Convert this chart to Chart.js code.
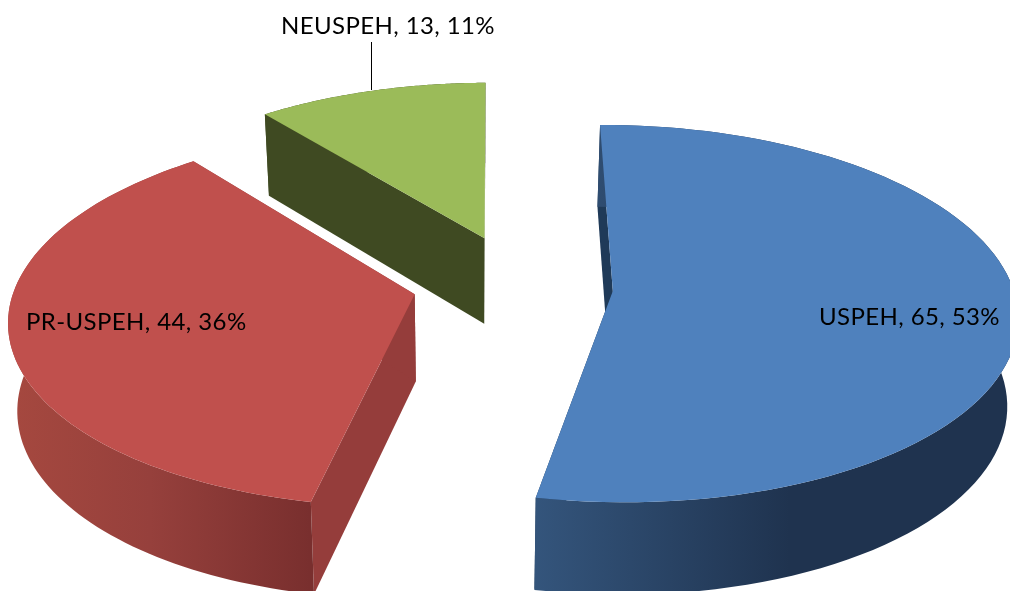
<!DOCTYPE html>
<html>
<head>
<meta charset="utf-8">
<style>html,body{margin:0;padding:0;background:#fff;overflow:hidden}canvas{display:block}</style>
<script src="https://cdn.jsdelivr.net/npm/chart.js@4"></script>
</head>
<body>
<canvas id="c" width="1010" height="591"></canvas>
<script>
const categories = ["USPEH", "PR-USPEH", "NEUSPEH"];
const values = [65, 44, 13];
const topColors = ["#4f81bd", "#c0504d", "#9bbb59"];
const faceColors = ["#1f3a58", "#953d3b", "#3f4a22"];
const explosion = [90, 111, 118];
const lift = [0, 5, -1];
const labelAnchors = [[819, 325], [26, 330], [281, 34]];

const centre = {x: 523, y: 287};
const vanishX = 470;
const RX = 400, RY = 185, PERSP = 0.12, DEPTH = 87;

// ground-plane point (X right, Y towards the back) at level z (0 top, 1 bottom)
function project(X, Y, z) {
  const f = 1 / (1 + PERSP * Y);
  const sx = centre.x + X * RX * f;
  return [sx + (vanishX - sx) * 0.02 * z,
          centre.y - Y * RY * f + z * DEPTH * (1 - 0.06 * Y)];
}

const wallGradients = [
  [[533, "#34557c"], [790, "#1f334f"], [1010, "#1f334f"]],
  [[15, "#a5483f"], [150, "#96403c"], [310, "#792f2e"]],
  [[265, "#3f4a22"], [485, "#3f4a22"]]
];

const pie3d = {
  id: "pie3d",
  beforeDatasetsDraw(chart) {
    const ctx = chart.ctx;
    const arcs = chart.getDatasetMeta(0).data;
    const order = [2, 0, 1];
    for (const i of order) {
      const a0 = arcs[i].startAngle + Math.PI / 2;
      const a1 = arcs[i].endAngle + Math.PI / 2;
      const mid = (a0 + a1) / 2;
      const e = explosion[i] / RX;
      const ox = Math.sin(mid) * e, oy = Math.cos(mid) * e + lift[i] / RY;
      const pt = (a, r, z) => project(ox + Math.sin(a) * r, oy + Math.cos(a) * r, z);
      const N = 90;
      const rim = [];
      for (let k = 0; k <= N; k++) rim.push(a0 + (a1 - a0) * k / N);

      // radial faces
      ctx.fillStyle = faceColors[i];
      for (const a of [a0, a1]) {
        ctx.beginPath();
        [pt(a, 0, 0), pt(a, 1, 0), pt(a, 1, 1), pt(a, 0, 1)].forEach((p, j) => j ? ctx.lineTo(p[0], p[1]) : ctx.moveTo(p[0], p[1]));
        ctx.closePath();
        ctx.fill();
      }
      // outer wall
      const gs = wallGradients[i];
      const g = ctx.createLinearGradient(gs[0][0], 0, gs[gs.length - 1][0], 0);
      const span = gs[gs.length - 1][0] - gs[0][0];
      gs.forEach(s => g.addColorStop((s[0] - gs[0][0]) / span, s[1]));
      ctx.fillStyle = g;
      ctx.beginPath();
      rim.forEach((a, j) => { const p = pt(a, 1, 0); j ? ctx.lineTo(p[0], p[1]) : ctx.moveTo(p[0], p[1]); });
      for (let j = rim.length - 1; j >= 0; j--) { const p = pt(rim[j], 1, 1); ctx.lineTo(p[0], p[1]); }
      ctx.closePath();
      ctx.fill();
      // top
      ctx.fillStyle = arcs[i].options.backgroundColor;
      ctx.beginPath();
      let p0 = pt(a0, 0, 0);
      ctx.moveTo(p0[0], p0[1]);
      rim.forEach(a => { const p = pt(a, 1, 0); ctx.lineTo(p[0], p[1]); });
      ctx.closePath();
      ctx.fill();
    }
    return false;
  },
  afterDraw(chart) {
    const ctx = chart.ctx;
    const total = values.reduce((s, v) => s + v, 0);
    ctx.save();
    ctx.fillStyle = "#000";
    ctx.font = '24px Lato';
    ctx.letterSpacing = "0.4px";
    ctx.textBaseline = "alphabetic";
    categories.forEach((c, i) => {
      const t = c + ", " + values[i] + ", " + Math.round(values[i] / total * 100) + "%";
      ctx.fillText(t, labelAnchors[i][0], labelAnchors[i][1]);
    });
    ctx.strokeStyle = "#000";
    ctx.lineWidth = 1;
    ctx.beginPath();
    ctx.moveTo(371.5, 42);
    ctx.lineTo(371.5, 90);
    ctx.stroke();
    ctx.restore();
  }
};

new Chart(document.getElementById("c"), {
  type: "pie",
  data: {
    labels: categories,
    datasets: [{ data: values, backgroundColor: topColors, borderWidth: 0 }]
  },
  options: {
    responsive: false,
    animation: false,
    rotation: -0.5,
    plugins: { legend: { display: false }, tooltip: { enabled: false } }
  },
  plugins: [pie3d]
});
</script>
</body>
</html>
